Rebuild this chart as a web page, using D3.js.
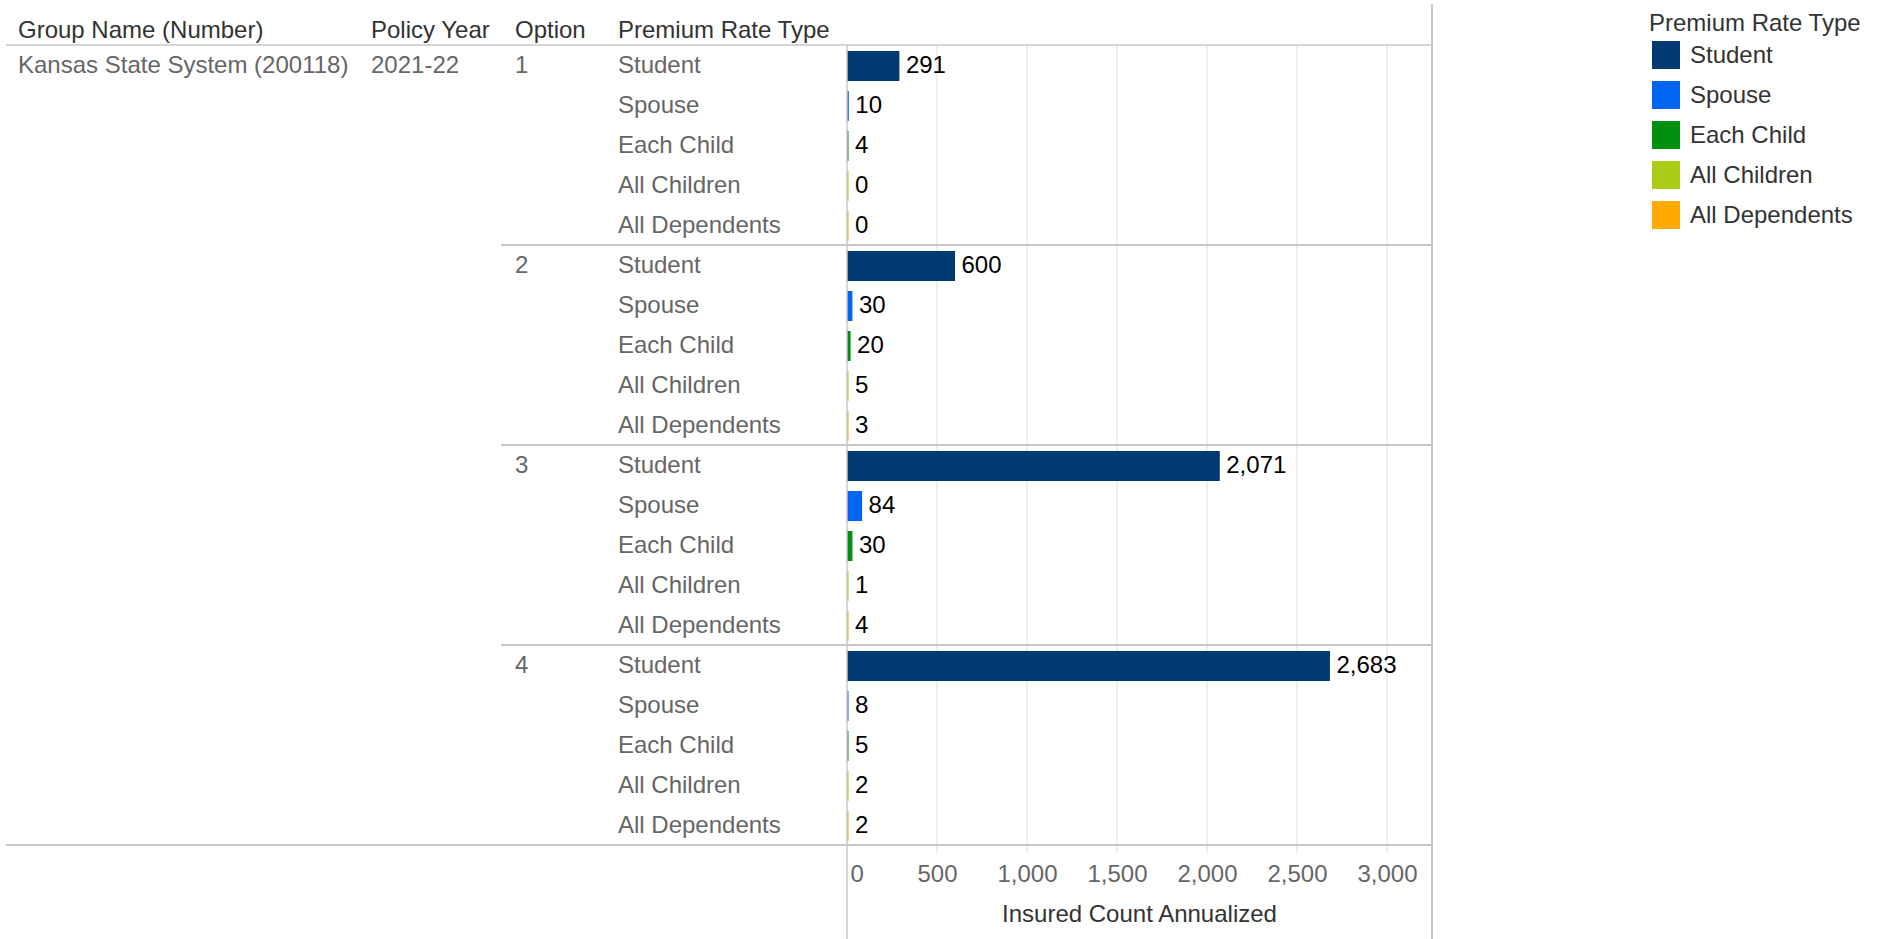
<!DOCTYPE html>
<html>
<head>
<meta charset="utf-8">
<script src="https://cdn.jsdelivr.net/npm/d3@7"></script>
<style>
  html, body { margin: 0; padding: 0; background: #fff; }
  svg { display: block; font-family: "Liberation Sans", Arial, sans-serif; }
</style>
</head>
<body>
<svg id="chart" width="1881" height="939"></svg>
<script>
// Table of insured counts by option and premium rate type
const groupName = "Kansas State System (200118)";
const policyYear = "2021-22";
const options = ["1", "2", "3", "4"];
const rateTypes = ["Student", "Spouse", "Each Child", "All Children", "All Dependents"];
const option1 = [291, 10, 4, 0, 0];
const option2 = [600, 30, 20, 5, 3];
const option3 = [2071, 84, 30, 1, 4];
const option4 = [2683, 8, 5, 2, 2];
const tickValues = [0, 500, 1000, 1500, 2000, 2500, 3000];
const colors = ["#003a70", "#0066f2", "#008f0f", "#aacc14", "#ffaa00"];
const columnHeaders = ["Group Name (Number)", "Policy Year", "Option", "Premium Rate Type"];
const axisTitle = "Insured Count Annualized";

const optionValues = [option1, option2, option3, option4];
const rows = [];
options.forEach((opt, oi) => {
  rateTypes.forEach((rt, ri) => {
    rows.push({ option: opt, type: rt, typeIndex: ri, value: optionValues[oi][ri], key: opt + "|" + rt });
  });
});

const svg = d3.select("#chart");
const FONT = 24;
const tableTop = 45, tableBottom = 845;
const plotLeft = 847, plotRight = 1432;
const colX = [18, 371, 515, 618];
const lineColor = "#c8c8c8";
const textShift = 7.5;

const x = d3.scaleLinear().domain([0, 3250]).range([plotLeft, plotRight]);
const y = d3.scaleBand().domain(rows.map(d => d.key)).range([tableTop, tableBottom]);
const color = d3.scaleOrdinal().domain(rateTypes).range(colors);
const barH = 30;
const rowMid = d => y(d.key) + y.bandwidth() / 2;

// gridlines (extend a little into the axis strip)
svg.append("g").selectAll("line").data(tickValues.filter(v => v > 0)).join("line")
  .attr("x1", d => x(d)).attr("x2", d => x(d))
  .attr("y1", tableTop).attr("y2", tableBottom + 8)
  .attr("stroke", "#efefef").attr("stroke-width", 2);

// column headers
svg.append("g").selectAll("text").data(columnHeaders).join("text")
  .attr("x", (d, i) => colX[i]).attr("y", 38)
  .attr("font-size", FONT).attr("fill", "#333")
  .text(d => d);

// group name, year
svg.append("text").attr("x", colX[0]).attr("y", rowMid(rows[0]) + textShift)
  .attr("font-size", FONT).attr("fill", "#666").text(groupName);
svg.append("text").attr("x", colX[1]).attr("y", rowMid(rows[0]) + textShift)
  .attr("font-size", FONT).attr("fill", "#666").text(policyYear);

// option labels
svg.append("g").selectAll("text").data(rows.filter(d => d.typeIndex === 0)).join("text")
  .attr("x", colX[2]).attr("y", d => rowMid(d) + textShift)
  .attr("font-size", FONT).attr("fill", "#666").text(d => d.option);

// rate type labels
svg.append("g").selectAll("text").data(rows).join("text")
  .attr("x", colX[3]).attr("y", d => rowMid(d) + textShift)
  .attr("font-size", FONT).attr("fill", "#666").text(d => d.type);

// bars
svg.append("g").selectAll("rect").data(rows).join("rect")
  .attr("x", x(0))
  .attr("y", d => rowMid(d) - barH / 2 + 1)
  .attr("width", d => Math.max(x(d.value) - x(0), 1.5))
  .attr("height", barH)
  .attr("fill", d => color(d.type));

// value labels
const fmt = d3.format(",");
svg.append("g").selectAll("text").data(rows).join("text")
  .attr("x", d => Math.max(x(d.value), x(0) + 1.5) + 6.5)
  .attr("y", d => rowMid(d) + textShift)
  .attr("font-size", FONT).attr("fill", "#000")
  .text(d => fmt(d.value));

// table rules
const rules = svg.append("g").attr("stroke", lineColor);
rules.append("line").attr("x1", 6).attr("x2", plotRight).attr("y1", tableTop).attr("y2", tableTop).attr("stroke-width", 1.5);
rules.append("line").attr("x1", 6).attr("x2", plotRight).attr("y1", tableBottom).attr("y2", tableBottom).attr("stroke-width", 2);
rules.selectAll("line.sep").data(options.slice(1)).join("line").attr("class", "sep")
  .attr("x1", 501).attr("x2", plotRight)
  .attr("y1", d => y(d + "|" + rateTypes[0])).attr("y2", d => y(d + "|" + rateTypes[0]))
  .attr("stroke-width", 2);
rules.append("line").attr("x1", plotLeft).attr("x2", plotLeft).attr("y1", tableTop).attr("y2", 939).attr("stroke-width", 1.5);
rules.append("line").attr("x1", plotRight).attr("x2", plotRight).attr("y1", 4).attr("y2", 939).attr("stroke-width", 2);

// x axis
const axis = d3.axisBottom(x).tickValues(tickValues).tickFormat(fmt).tickSize(0).tickPadding(0);
const gAxis = svg.append("g").attr("transform", `translate(0,${tableBottom})`).call(axis);
gAxis.select(".domain").remove();
gAxis.selectAll("text")
  .attr("font-size", FONT).attr("fill", "#666").attr("font-family", "Liberation Sans, Arial, sans-serif")
  .attr("dy", null).attr("y", 37)
  .attr("text-anchor", d => d === 0 ? "start" : "middle")
  .attr("x", d => d === 0 ? 3 : 0);

svg.append("text").attr("x", (plotLeft + plotRight) / 2).attr("y", 922)
  .attr("text-anchor", "middle").attr("font-size", FONT).attr("fill", "#333")
  .text(axisTitle);

// legend
const legend = svg.append("g");
legend.append("text").attr("x", 1649).attr("y", 31).attr("font-size", FONT).attr("fill", "#333").text("Premium Rate Type");
const items = legend.selectAll("g.item").data(rateTypes).join("g").attr("class", "item")
  .attr("transform", (d, i) => `translate(1652,${41 + i * 40})`);
items.append("rect").attr("width", 28).attr("height", 28).attr("fill", d => color(d));
items.append("text").attr("x", 38).attr("y", 22).attr("font-size", FONT).attr("fill", "#333").text(d => d);
</script>
</body>
</html>
